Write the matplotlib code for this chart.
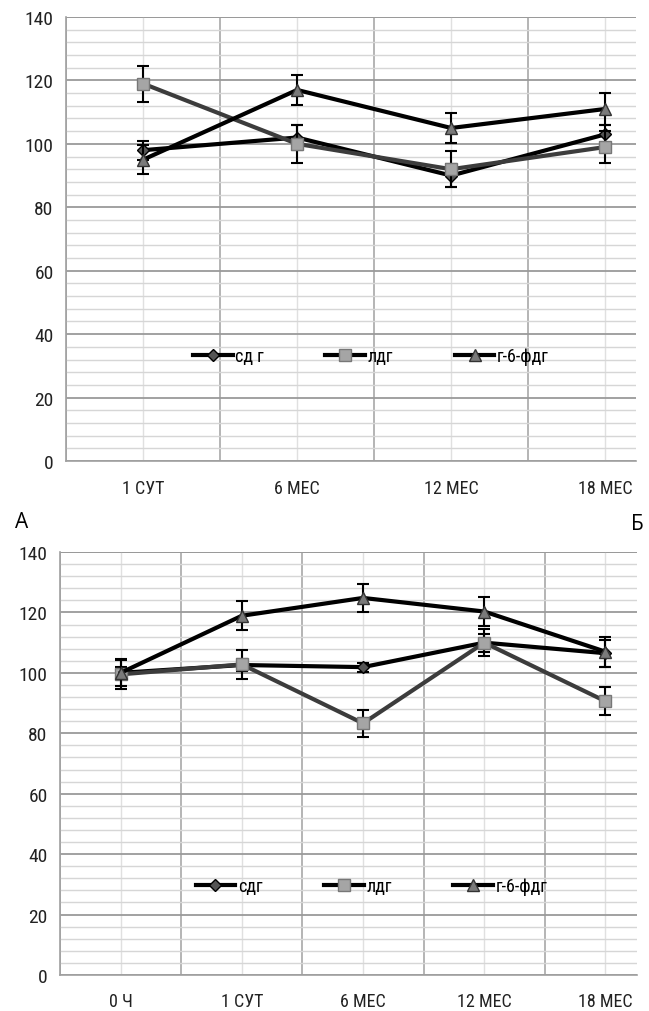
import matplotlib
matplotlib.use("Agg")
import matplotlib.pyplot as plt
from matplotlib import font_manager
from matplotlib.ticker import MultipleLocator, FixedLocator
from matplotlib.lines import Line2D
import numpy as np

avail = {f.name for f in font_manager.fontManager.ttflist}
cands = ['Liberation Sans Narrow', 'DejaVu Sans Condensed', 'Roboto Condensed',
         'Open Sans Condensed', 'Noto Sans', 'Roboto']
narrow = [c for c in cands if c in avail][:1] or ['DejaVu Sans']
plt.rcParams['font.family'] = narrow + ['DejaVu Sans']
stretch_ok = narrow[0] in ('Noto Sans', 'Roboto')

# ---- data: panel A ----
cats_a = ["1 СУТ", "6 МЕС", "12 МЕС", "18 МЕС"]
sdg_a = [98, 102, 90, 103]
sdg_a_err = [3, 4, 3.5, 3]
ldg_a = [119, 100, 92, 99]
ldg_a_err = [5.7, 6, 5.6, 5]
g6f_a = [95, 117, 105, 111]
g6f_a_err = [4.5, 4.6, 4.7, 5]

# ---- data: panel B ----
cats_b = ["0 Ч", "1 СУТ", "6 МЕС", "12 МЕС", "18 МЕС"]
sdg_b = [100, 102.6, 101.9, 110, 106.5]
sdg_b_err = [2, 2, 1.5, 3, 4.5]
ldg_b = [99.5, 102.8, 83.3, 110, 90.6]
ldg_b_err = [4.7, 4.7, 4.5, 4.5, 4.7]
g6f_b = [100, 118.9, 124.8, 120.3, 107]
g6f_b_err = [4.5, 4.8, 4.7, 4.7, 5]

labels_a = ["сд г", "лдг", "г-6-фдг"]
labels_b = ["сдг", "лдг", "г-6-фдг"]

W, H = 649, 1012
fig = plt.figure(figsize=(W / 100, H / 100), dpi=100)

MK = [dict(marker='D', ms=6, mfc='#555555', mec='black'),
      dict(marker='s', ms=9, mfc='#a5a5a5', mec='#777777'),
      dict(marker='^', ms=9, mfc='#7a7a7a', mec='#333333')]
LC = ['black', '#3c3c3c', 'black']


def make_ax(left, right, top, bottom):
    return fig.add_axes([left / W, 1 - bottom / H, (right - left) / W, (bottom - top) / H])


def style(ax, cats, xmax, xpad):
    n = len(cats)
    x = np.arange(n)
    ax.set_xlim(-0.5, xmax)
    ax.set_ylim(0, 140)
    ax.yaxis.set_major_locator(MultipleLocator(20))
    ax.yaxis.set_minor_locator(MultipleLocator(4))
    ax.xaxis.set_major_locator(FixedLocator(list(x)))
    ax.xaxis.set_minor_locator(FixedLocator(list(np.arange(n + 1) - 0.5)))
    ax.set_xticklabels(cats)
    ax.grid(which='major', axis='y', color='#9a9a9a', lw=1.3)
    ax.grid(which='minor', axis='y', color='#d6d6d6', lw=1.0)
    ax.grid(which='minor', axis='x', color='#a8a8a8', lw=1.2)
    ax.grid(which='major', axis='x', color='#e0e0e0', lw=1.0)
    ax.set_axisbelow(True)
    for s in ['top', 'right']:
        ax.spines[s].set_visible(False)
    for s in ['left', 'bottom']:
        ax.spines[s].set_color('#a0a0a0')
        ax.spines[s].set_linewidth(1.2)
    ax.tick_params(which='both', length=0)
    ax.tick_params(axis='x', pad=xpad, labelsize=13, labelcolor='#222222')
    ax.tick_params(axis='y', pad=9, labelsize=14, labelcolor='#222222')
    if stretch_ok:
        for t in ax.get_xticklabels() + ax.get_yticklabels():
            t.set_fontstretch('condensed')
    ax.axhline(140, color='#9a9a9a', lw=1.3, zorder=0.5)
    return x


def plot_series(ax, x, series, errs):
    ekw = dict(ecolor='black', elinewidth=1.5, capsize=4, capthick=1.5)
    for i, (y, e) in enumerate(zip(series, errs)):
        ax.errorbar(x, y, yerr=e, color=LC[i], lw=3, zorder=3 + i, **MK[i], **ekw)


def legend(ax, labels, anchor):
    handles = [Line2D([], [], color='black', lw=3, **MK[i]) for i in range(3)]
    ax.legend(handles, labels, loc='center', bbox_to_anchor=anchor, ncol=3, frameon=False,
              fontsize=13, columnspacing=3.4, handlelength=2.2, handletextpad=0.15)


# Panel A
axA = make_ax(66, 636, 18, 462)
xa = style(axA, cats_a, 3.2, 13)
plot_series(axA, xa, [sdg_a, ldg_a, g6f_a], [sdg_a_err, ldg_a_err, g6f_a_err])
legend(axA, labels_a, (0.535, 0.236))

# Panel B
axB = make_ax(60, 637, 553, 976)
xb = style(axB, cats_b, 4.26, 12)
plot_series(axB, xb, [sdg_b, ldg_b, g6f_b], [sdg_b_err, ldg_b_err, g6f_b_err])
legend(axB, labels_b, (0.54, 0.21))

fig.text(15 / W, 1 - 522 / H, "А", fontsize=15, family=['Open Sans', 'DejaVu Sans'],
         ha='left', va='center')
fig.text(631 / W, 1 - 524 / H, "Б", fontsize=15, family=['Open Sans', 'DejaVu Sans'],
         ha='left', va='center')

fig.savefig("out.png", dpi=100, facecolor='white')
